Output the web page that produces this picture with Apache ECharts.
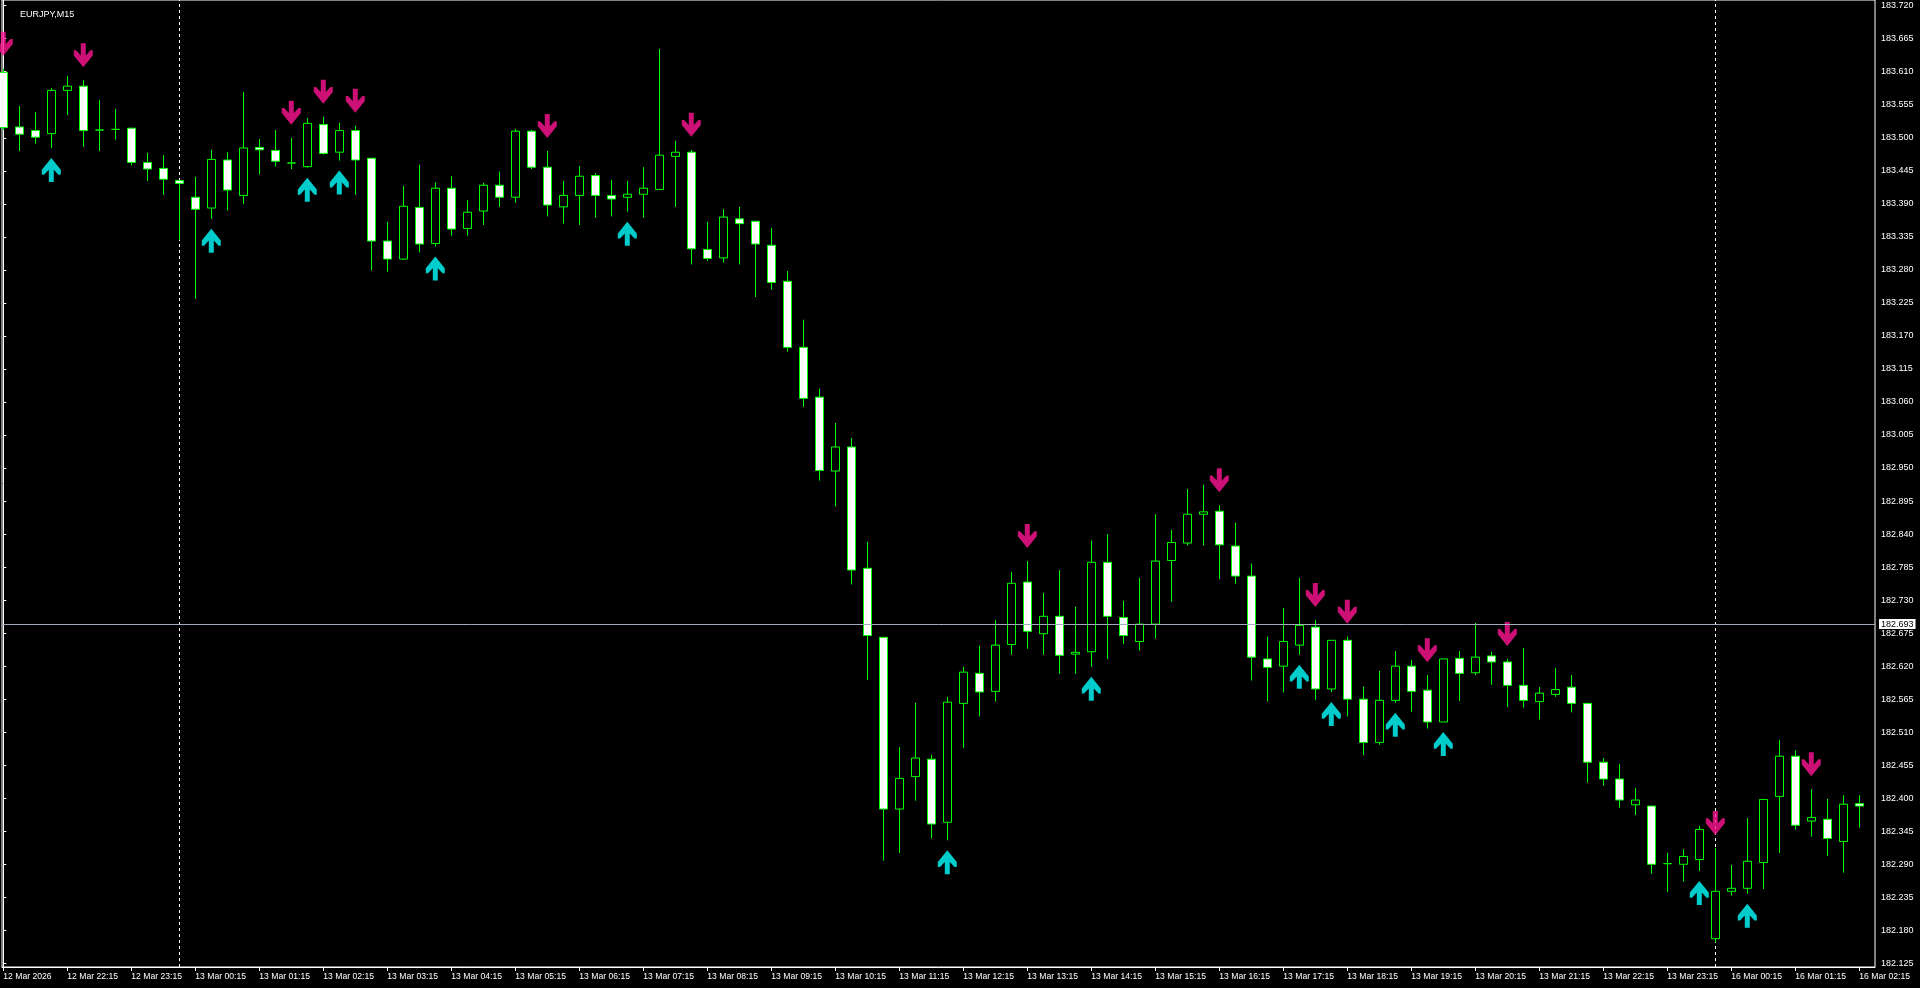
<!DOCTYPE html>
<html>
<head>
<meta charset="utf-8">
<style>
html,body{margin:0;padding:0;background:#000;}
#c{width:1920px;height:988px;}
</style>
<script src="https://cdn.jsdelivr.net/npm/echarts@6.0.0/dist/echarts.min.js"></script>
</head>
<body>
<div id="c"></div>
<script>
// ---- data (EURJPY M15, bar index 0 = 12 Mar 2026 21:15) ----
const opens = [183.609,183.518,183.512,183.507,183.579,183.586,183.513,183.514,183.516,183.459,
183.449,183.429,183.401,183.383,183.463,183.404,183.484,183.479,183.458,183.452,
183.522,183.476,183.512,183.466,183.328,183.298,183.384,183.324,183.416,183.349,
183.378,183.421,183.401,183.511,183.451,183.385,183.404,183.437,183.404,183.401,
183.406,183.414,183.469,183.476,183.314,183.300,183.365,183.361,183.321,183.261,
183.151,183.068,182.945,182.985,182.783,182.668,182.382,182.436,182.465,182.360,
182.558,182.608,182.578,182.656,182.760,182.674,182.703,182.640,182.644,182.793,
182.701,182.661,182.690,182.796,182.825,182.873,182.878,182.820,182.770,182.632,
182.620,182.655,182.685,182.582,182.663,182.565,182.493,182.563,182.620,182.580,
182.527,182.633,182.609,182.637,182.627,182.588,182.561,182.573,182.585,182.558,
182.460,182.432,182.389,182.387,182.291,182.290,182.298,182.166,182.245,182.250,
182.293,182.403,182.470,182.362,182.365,182.328,182.391];
const closes = [183.517,183.506,183.501,183.579,183.586,183.512,183.513,183.514,183.459,183.448,
183.431,183.424,183.381,183.464,183.413,183.483,183.480,183.461,183.458,183.524,
183.474,183.512,183.463,183.328,183.298,183.386,183.323,183.416,183.348,183.376,
183.421,183.401,183.511,183.451,183.388,183.404,183.436,183.404,183.398,183.406,
183.416,183.471,183.476,183.315,183.299,183.368,183.357,183.323,183.259,183.151,
183.066,182.946,182.985,182.780,182.671,182.382,182.433,182.467,182.357,182.560,
182.610,182.577,182.655,182.758,182.678,182.703,182.638,182.643,182.793,182.703,
182.671,182.690,182.795,182.826,182.873,182.877,182.822,182.770,182.635,182.618,
182.661,182.688,182.582,182.663,182.565,182.493,182.563,182.620,182.578,182.527,
182.632,182.608,182.635,182.627,182.588,182.563,182.575,182.581,182.558,182.460,
182.432,182.397,182.397,182.290,182.291,182.303,182.348,182.245,182.250,182.295,
182.398,182.470,182.355,182.368,182.333,182.390,182.387];
const lows = [183.513,183.478,183.490,183.483,183.538,183.485,183.478,183.497,183.454,183.428,
183.405,183.330,183.232,183.365,183.379,183.390,183.439,183.452,183.448,183.450,
183.472,183.462,183.405,183.279,183.277,183.297,183.309,183.319,183.337,183.337,
183.355,183.385,183.392,183.448,183.369,183.357,183.355,183.367,183.369,183.377,
183.367,183.413,183.385,183.289,183.295,183.292,183.289,183.235,183.247,183.144,
183.052,182.929,182.886,182.756,182.597,182.296,182.309,182.396,182.333,182.330,
182.484,182.536,182.561,182.639,182.649,182.639,182.607,182.607,182.619,182.632,
182.657,182.646,182.666,182.727,182.821,182.821,182.765,182.757,182.596,182.561,
182.576,182.639,182.564,182.577,182.536,182.472,182.489,182.559,182.544,182.516,
182.527,182.562,182.605,182.589,182.552,182.551,182.531,182.569,182.543,182.426,
182.421,182.384,182.372,182.274,182.244,182.261,182.279,182.160,182.238,182.241,
182.249,182.309,182.348,182.336,182.304,182.276,182.351];
const highs = [183.615,183.553,183.543,183.583,183.603,183.596,183.563,183.548,183.516,183.475,
183.471,183.429,183.435,183.480,183.476,183.576,183.498,183.513,183.500,183.533,
183.535,183.525,183.520,183.466,183.360,183.420,183.455,183.426,183.436,183.396,
183.425,183.444,183.515,183.513,183.478,183.428,183.453,183.441,183.430,183.428,
183.451,183.648,183.495,183.480,183.360,183.381,183.385,183.361,183.350,183.278,
183.197,183.082,183.025,183.000,182.827,182.668,182.485,182.559,182.472,182.569,
182.619,182.654,182.697,182.777,182.795,182.742,182.780,182.719,182.829,182.840,
182.729,182.767,182.873,182.847,182.915,182.922,182.888,182.859,182.791,182.669,
182.717,182.767,182.697,182.663,182.669,182.586,182.612,182.645,182.630,182.605,
182.632,182.645,182.692,182.644,182.632,182.650,182.585,182.617,182.605,182.558,
182.467,182.457,182.417,182.387,182.309,182.315,182.354,182.317,182.289,182.367,
182.398,182.497,182.480,182.415,182.399,182.405,182.405];

// signal arrows (bar indices)
const sellSignals = [0,5,18,20,22,34,43,64,76,82,84,89,94,107,113];
const buySignals  = [3,13,19,21,27,39,59,68,81,83,87,90,106,109];

// day separators (bar indices of 00:00)
const separators = [11,107];
const linePrice = 182.693;

// tick labels
const timeLabels = ['12 Mar 2026','12 Mar 22:15','12 Mar 23:15','13 Mar 00:15','13 Mar 01:15','13 Mar 02:15',
'13 Mar 03:15','13 Mar 04:15','13 Mar 05:15','13 Mar 06:15','13 Mar 07:15','13 Mar 08:15','13 Mar 09:15',
'13 Mar 10:15','13 Mar 11:15','13 Mar 12:15','13 Mar 13:15','13 Mar 14:15','13 Mar 15:15','13 Mar 16:15',
'13 Mar 17:15','13 Mar 18:15','13 Mar 19:15','13 Mar 20:15','13 Mar 21:15','13 Mar 22:15','13 Mar 23:15',
'16 Mar 00:15','16 Mar 01:15','16 Mar 02:15'];
const timeLabelStep = 4;
const priceTicks = [182.125,182.180,182.235,182.290,182.345,182.400,182.455,182.510,182.565,182.620,
182.675,182.730,182.785,182.840,182.895,182.950,183.005,183.060,183.115,183.170,
183.225,183.280,183.335,183.390,183.445,183.500,183.555,183.610,183.665,183.720];

// ---- build ----
const candleData = opens.map((o, i) => [i, o, closes[i], lows[i], highs[i]]);
const timeTickIdx = timeLabels.map((_, k) => k * timeLabelStep);
const downPts = sellSignals.map(i => [i, highs[i]]);
const upPts = buySignals.map(i => [i, lows[i]]);

const FONT = 'Liberation Sans';
const downArrow = 'path://M7,0 L12,0 L12,12 L16.7,7 L19,7 L19,12 L9.5,23.5 L0,12 L0,7 L2.3,7 L7,12 Z';
const upArrow = 'path://M7,23.5 L12,23.5 L12,11.5 L16.7,16.5 L19,16.5 L19,11.5 L9.5,0 L0,11.5 L0,16.5 L2.3,16.5 L7,11.5 Z';

const chart = echarts.init(document.getElementById('c'), null, {renderer: 'canvas'});
chart.setOption({
  backgroundColor: '#000',
  animation: false,
  title: {
    text: 'EURJPY,M15', left: 15, top: 5,
    textStyle: {color: '#fff', fontSize: 9, fontWeight: 'normal', fontFamily: FONT}
  },
  grid: {left: 2, right: 45, top: 0, bottom: 21, show: true, borderColor: '#fff', borderWidth: 1},
  xAxis: {
    type: 'value', min: -0.08125, max: 116.98125,
    axisLine: {show: true, onZero: false, lineStyle: {color: '#fff', width: 1}},
    splitLine: {show: false},
    axisTick: {show: true, customValues: timeTickIdx, length: 4, lineStyle: {color: '#fff'}},
    axisLabel: {
      customValues: timeTickIdx, color: '#fff', fontSize: 8.6, fontFamily: FONT,
      align: 'left', margin: 5,
      formatter: v => timeLabels[Math.round(v / timeLabelStep)]
    }
  },
  yAxis: {
    type: 'value', position: 'right', min: 182.1189, max: 183.7295, scale: true,
    axisLine: {show: true, lineStyle: {color: '#fff', width: 1}},
    splitLine: {show: false},
    axisTick: {show: true, customValues: priceTicks, length: 3, lineStyle: {color: '#fff'}},
    axisLabel: {
      customValues: priceTicks, color: '#fff', fontSize: 9, fontFamily: FONT, margin: 6,
      formatter: v => v.toFixed(3)
    }
  },
  series: [
    {
      type: 'line', data: [], silent: true, z: 1,
      markLine: {
        silent: true, z: 1, symbol: 'none', animation: false,
        data: separators.map(i => ({xAxis: i})),
        lineStyle: {color: '#fff', type: [3, 3], width: 1},
        label: {show: false}
      }
    },
    {
      type: 'candlestick', data: candleData, barWidth: 9, z: 2, silent: true,
      itemStyle: {color: '#000', color0: '#fff', borderColor: '#00ff00', borderColor0: '#00ff00', borderWidth: 1},
      emphasis: {disabled: true}
    },
    {
      type: 'scatter', data: downPts, symbol: downArrow, symbolSize: [19, 24], symbolOffset: [0, -25],
      itemStyle: {color: '#ff1493'}, z: 3, silent: true, clip: false
    },
    {
      type: 'scatter', data: upPts, symbol: upArrow, symbolSize: [19, 24], symbolOffset: [0, 22],
      itemStyle: {color: '#00ffff'}, z: 3, silent: true, clip: false,
      markLine: {
        silent: true, symbol: 'none', animation: false,
        data: [{yAxis: linePrice}],
        lineStyle: {color: '#a3adbb', type: 'solid', width: 1},
        label: {
          show: true, position: 'end', distance: 4, formatter: linePrice.toFixed(3),
          backgroundColor: '#fff', color: '#000', fontSize: 9, fontFamily: FONT, padding: [1, 2, 0, 2]
        }
      }
    }
  ]
});
</script>
</body>
</html>
